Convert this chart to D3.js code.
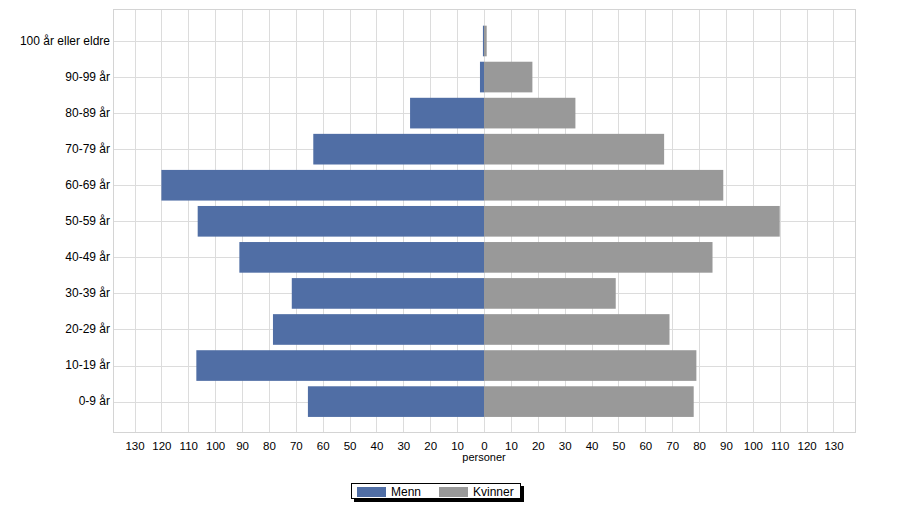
<!DOCTYPE html>
<html lang="no">
  <head>
    <meta charset="UTF-8" />
    <title>Befolkning etter alder og kjønn</title>
    <script src="https://d3js.org/d3.v7.min.js"></script>
    <style>
      body { margin: 0; background: #fff; }
      svg text { font-family: "Liberation Sans", Arial, sans-serif; }
    </style>
  </head>
  <body>
    <div id="chart"></div>

    <script>
      // age groups, top to bottom
      const ageGroups = [
        "100 år eller eldre",
        "90-99 år",
        "80-89 år",
        "70-79 år",
        "60-69 år",
        "50-59 år",
        "40-49 år",
        "30-39 år",
        "20-29 år",
        "10-19 år",
        "0-9 år",
      ];

      // values
      const menn = [0.4, 1.5, 27.5, 63.5, 120, 106.5, 91, 71.5, 78.5, 107, 65.5];
      const kvinner = [1, 18, 34, 67, 89, 110, 85, 49, 69, 79, 78];

      const tickValues = d3.range(-130, 131, 10);
      const seriesNames = ["Menn", "Kvinner"];

      const width = 900,
        height = 510;
      const margin = { top: 9, right: 45, bottom: 78, left: 113 };
      const plotW = width - margin.left - margin.right,
        plotH = height - margin.top - margin.bottom;

      const color = d3.scaleOrdinal().domain(seriesNames).range(["#506ea5", "#999999"]);

      const svg = d3
        .select("#chart")
        .append("svg")
        .attr("width", width)
        .attr("height", height);

      const g = svg.append("g").attr("transform", `translate(${margin.left},${margin.top})`);

      const x = d3.scaleLinear().domain([-138, 138]).range([0, plotW]);

      const y = d3
        .scaleBand()
        .domain(ageGroups)
        .range([0.8, plotH + 0.8])
        .paddingInner(0.15)
        .paddingOuter(0.44);

      // grid
      g.append("g")
        .selectAll("line")
        .data(tickValues)
        .join("line")
        .attr("x1", (d) => Math.round(x(d)) + 0.5)
        .attr("x2", (d) => Math.round(x(d)) + 0.5)
        .attr("y1", 0)
        .attr("y2", plotH)
        .attr("stroke", "#dcdcdc");

      g.append("g")
        .selectAll("line")
        .data(ageGroups)
        .join("line")
        .attr("x1", 0)
        .attr("x2", plotW)
        .attr("y1", (d) => Math.round(y(d) + y.bandwidth() / 2) + 0.5)
        .attr("y2", (d) => Math.round(y(d) + y.bandwidth() / 2) + 0.5)
        .attr("stroke", "#dcdcdc");

      // plot frame
      g.append("rect")
        .attr("x", 0.5)
        .attr("y", 0.5)
        .attr("width", plotW)
        .attr("height", plotH)
        .attr("fill", "none")
        .attr("stroke", "#d4d4d4");

      // bars
      const rows = ageGroups.map((a, i) => ({ age: a, Menn: menn[i], Kvinner: kvinner[i] }));

      g.append("g")
        .selectAll("rect")
        .data(rows)
        .join("rect")
        .attr("x", (d) => x(-d.Menn))
        .attr("y", (d) => y(d.age))
        .attr("width", (d) => x(0) - x(-d.Menn))
        .attr("height", y.bandwidth())
        .attr("fill", color("Menn"));

      g.append("g")
        .selectAll("rect")
        .data(rows)
        .join("rect")
        .attr("x", x(0))
        .attr("y", (d) => y(d.age))
        .attr("width", (d) => x(d.Kvinner) - x(0))
        .attr("height", y.bandwidth())
        .attr("fill", color("Kvinner"));

      // x axis labels (absolute values)
      const xAxis = g
        .append("g")
        .attr("transform", `translate(0,${plotH})`)
        .call(
          d3
            .axisBottom(x)
            .tickValues(tickValues)
            .tickSize(0)
            .tickPadding(10)
            .tickFormat((d) => Math.abs(d))
        );
      xAxis.select(".domain").remove();
      xAxis.selectAll("text").attr("font-size", 11.5).attr("fill", "#000");

      g.append("text")
        .attr("x", x(0))
        .attr("y", plotH + 29)
        .attr("text-anchor", "middle")
        .attr("font-size", 11)
        .attr("fill", "#000")
        .text("personer");

      // y axis labels
      const yAxis = g.append("g").call(d3.axisLeft(y).tickSize(0).tickPadding(3));
      yAxis.select(".domain").remove();
      yAxis.selectAll("text").attr("font-size", 12).attr("fill", "#000");

      // legend with shadow
      const legend = svg.append("g").attr("transform", "translate(351,483)");
      legend.append("rect").attr("x", 3).attr("y", 3).attr("width", 170).attr("height", 16).attr("fill", "#000");
      legend
        .append("rect")
        .attr("x", 0.5)
        .attr("y", 0.5)
        .attr("width", 169)
        .attr("height", 15)
        .attr("fill", "#fff")
        .attr("stroke", "#000");

      const items = legend
        .selectAll("g.item")
        .data(seriesNames)
        .join("g")
        .attr("class", "item")
        .attr("transform", (d, i) => `translate(${6 + i * 82},4)`);

      items.append("rect").attr("width", 29).attr("height", 10).attr("fill", (d) => color(d));
      items
        .append("text")
        .attr("x", 34)
        .attr("y", 5)
        .attr("dy", "0.35em")
        .attr("font-size", 12)
        .attr("fill", "#000")
        .text((d) => d);
    </script>
  </body>
</html>
